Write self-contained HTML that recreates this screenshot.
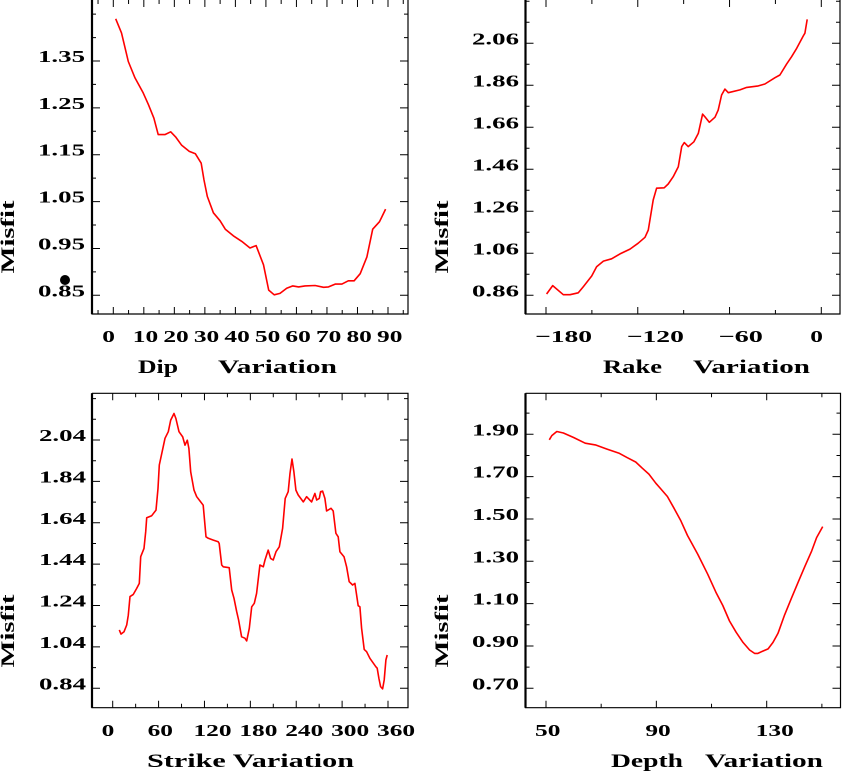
<!DOCTYPE html>
<html><head><meta charset="utf-8"><style>
html,body{margin:0;padding:0;background:#fff;}
svg{display:block;}
text{font-family:"Liberation Serif",serif;font-weight:bold;fill:#000;}
</style></head><body>
<svg id="fig" width="842" height="772" viewBox="0 0 842 772" xmlns="http://www.w3.org/2000/svg"></svg>
<script>
// ---- Dip panel data ----
const dipX = [0.8,2.7,4.9,7.1,9.8,11.5,13.3,14.7,16.9,18.8,20.4,22.4,24.9,26.9,28.8,29.7,30.8,32.8,35,36.7,39.3,42.1,44.8,46.8,49.2,50.9,52.7,54.6,56.8,58.8,60.7,62.8,66.1,68.9,70.5,72.7,74.9,77.0,78.9,80.9,83.1,85.0,87.2,89.2];
const dipY = [1.440,1.410,1.349,1.314,1.282,1.257,1.228,1.193,1.193,1.199,1.188,1.170,1.157,1.152,1.132,1.096,1.061,1.026,1.009,0.991,0.977,0.965,0.951,0.956,0.915,0.861,0.851,0.854,0.865,0.870,0.868,0.870,0.871,0.867,0.868,0.874,0.874,0.881,0.881,0.896,0.932,0.991,1.007,1.034];
const dipXTicks = [0,10,20,30,40,50,60,70,80,90];
const dipYTicks = [0.85,0.95,1.05,1.15,1.25,1.35];
// ---- Rake panel data ----
const rakeX = [-179.6,-175.6,-168.7,-164.3,-158.9,-155.6,-150.1,-146.9,-142.5,-137.1,-131.6,-125.1,-119.7,-115.3,-113.1,-109.9,-107.7,-102.7,-100.1,-96.8,-93.5,-91.3,-89.6,-87.0,-83.3,-80.4,-77.6,-76.1,-73.2,-69.5,-67.4,-65.2,-63.0,-60.8,-53.2,-48.8,-41.2,-36.9,-30.3,-27.1,-22.7,-19.4,-16.1,-11.8,-10.7,-9.2];
const rakeY = [0.866,0.906,0.863,0.863,0.872,0.901,0.952,0.996,1.023,1.034,1.057,1.080,1.108,1.136,1.171,1.314,1.370,1.372,1.390,1.425,1.472,1.568,1.587,1.568,1.591,1.631,1.723,1.710,1.684,1.708,1.742,1.814,1.842,1.825,1.838,1.850,1.857,1.866,1.896,1.909,1.961,1.996,2.036,2.095,2.108,2.174];
const rakeXTicks = [-180,-120,-60,0];
const rakeYTicks = [0.86,1.06,1.26,1.46,1.66,1.86,2.06];
// ---- Strike panel data ----
const strikeX = [8.6,10.8,14.8,18.3,20.4,22.6,26.9,31.4,34.8,36.6,40.9,43.1,44.4,51.0,56.6,59.2,60.9,66.1,68.4,72.7,75.8,80.1,82.7,86.7,91.5,94.5,97.5,99.7,102.0,106.3,109.8,114.1,118.4,122.0,125.0,131.5,138.0,139.3,142.5,144.6,152.4,155.6,158.6,162.1,164.7,168.6,172.9,175.2,178.6,181.7,185.1,188.2,192.5,196.9,199.1,201.3,203.4,206.5,209.9,213.5,217.8,222.2,225.6,229.5,231.8,234.4,237.0,239.6,242.6,249.2,253.6,260.1,264.4,266.7,270.1,271.9,274.5,277.5,279.7,285.4,288.4,291.9,294.9,297.1,302.4,305.9,309.3,313.7,316.7,321.0,323.3,325.5,328.9,332.0,336.3,344.2,345.9,348.1,350.3,352.9,355.0,357.3,359.0];
const strikeY = [1.122,1.102,1.113,1.146,1.194,1.283,1.294,1.323,1.347,1.476,1.516,1.597,1.664,1.674,1.701,1.806,1.919,2.007,2.048,2.080,2.136,2.168,2.144,2.080,2.055,2.015,2.039,1.999,1.886,1.798,1.766,1.745,1.725,1.572,1.565,1.556,1.548,1.540,1.436,1.427,1.423,1.315,1.275,1.210,1.170,1.089,1.082,1.069,1.130,1.234,1.251,1.299,1.436,1.427,1.460,1.484,1.508,1.468,1.460,1.500,1.524,1.613,1.758,1.790,1.879,1.948,1.886,1.798,1.774,1.741,1.766,1.741,1.782,1.750,1.758,1.790,1.793,1.758,1.697,1.710,1.697,1.589,1.572,1.500,1.476,1.427,1.355,1.339,1.347,1.239,1.234,1.130,1.028,1.017,0.985,0.944,0.937,0.888,0.848,0.837,0.880,0.977,1.001];
const strikeXTicks = [0,60,120,180,240,300,360];
const strikeYTicks = [0.84,1.04,1.24,1.44,1.64,1.84,2.04];
// ---- Depth panel data ----
const depthX = [51.2,52.1,53.9,56.3,60.0,64.2,67.9,72.1,76.4,79.4,82.5,84.9,87.3,89.8,91.6,94.0,96.4,98.9,101.3,105.0,108.6,111.6,114.1,116.5,118.9,121.4,123.8,125.6,126.8,128.7,130.5,132.3,134.1,136.5,139.0,141.4,143.8,146.3,148.1,150.3];
const depthY = [1.874,1.894,1.913,1.906,1.885,1.858,1.850,1.830,1.811,1.790,1.769,1.740,1.712,1.669,1.642,1.606,1.551,1.491,1.422,1.334,1.239,1.154,1.091,1.018,0.965,0.917,0.881,0.865,0.865,0.876,0.886,0.917,0.960,1.047,1.126,1.201,1.275,1.349,1.412,1.464];
const depthXTicks = [50,90,130];
const depthYTicks = [0.70,0.90,1.10,1.30,1.50,1.70,1.90];

const NS = "http://www.w3.org/2000/svg";
const svg = document.getElementById('fig');
function mk(tag, attrs, parent){const e=document.createElementNS(NS,tag);for(const k in attrs)e.setAttribute(k,attrs[k]);(parent||svg).appendChild(e);return e;}

const panels = [
 {name:'dip', xs:dipX, ys:dipY, xt:dipXTicks, yt:dipYTicks, xMinor:5, yMinor:0.05,
  L:92, R:408, T:0, B:314, x0:0, x1:90, px0:113.3, px1:388, y0:0.85, y1:1.35, py0:295.3, py1:61, ytop:-10, labR:85, labBase:342,
  xtitle:[['Dip',138,40],['Variation',218,119]], xtBase:373, ytitleX:14},
 {name:'rake', xs:rakeX, ys:rakeY, xt:rakeXTicks, yt:rakeYTicks, xMinor:30, yMinor:0.1,
  L:525.5, R:840, T:0, B:314, x0:-180, x1:0, px0:546, px1:821.3, y0:0.86, y1:2.06, py0:295.3, py1:43.3, ytop:-10, labR:519, labBase:342,
  xtitle:[['Rake',603,59],['Variation',693,117]], xtBase:373, ytitleX:448},
 {name:'strike', xs:strikeX, ys:strikeY, xt:strikeXTicks, yt:strikeYTicks, xMinor:30, yMinor:0.1,
  L:92, R:408, T:393.3, B:707.7, x0:0, x1:360, px0:112.7, px1:388, y0:0.84, y1:2.04, py0:688.3, py1:440, ytop:393.3, labR:86, labBase:736,
  xtitle:[['Strike Variation',147,207]], xtBase:767, ytitleX:14},
 {name:'depth', xs:depthX, ys:depthY, xt:depthXTicks, yt:depthYTicks, xMinor:20, yMinor:0.1,
  L:525.5, R:840.5, T:393.3, B:707.7, x0:50, x1:130, px0:546, px1:766.7, y0:0.70, y1:1.90, py0:688.3, py1:434.3, ytop:393.3, labR:519, labBase:736,
  xtitle:[['Depth',611,72],['Variation',705,118]], xtBase:767, ytitleX:448}
];

function fmt(v, ticks){const d=(String(ticks[1]).split('.')[1]||'').length;return v.toFixed(Math.max(d,2));}

panels.forEach(p=>{
  const g = mk('g',{});
  
  
  const sx = v => p.px0 + (v-p.x0)*(p.px1-p.px0)/(p.x1-p.x0);
  const sy = v => p.py0 + (v-p.y0)*(p.py1-p.py0)/(p.y1-p.y0);
  const top = Math.max(p.T,0);
  // frame
  const fr = mk('path',{d:`M${p.L},${top} V${p.B} H${p.R} V${top}`+(p.T>0?` H${p.L}`:''),fill:'none',stroke:'#000','stroke-width':1.2},g);
  
  
  mk('line',{x1:p.L,y1:top,x2:p.L,y2:p.B,stroke:'#000','stroke-width':2.2},g);
  // x ticks (major+minor)
  const xstep = p.xMinor;
  let d='';
  for(let v=p.x0 - Math.floor((p.x0-(-400))/xstep)*xstep; v<=p.x1+1e-6+200; v+=xstep){
    const x=sx(v); if(x<p.L+1||x>p.R-1) continue;
    const major = p.xt.some(t=>Math.abs(t-v)<1e-6);
    const len = major?7:4;
    d+=`M${x},${p.B}v${-len}M${x},${top}v${len}`;
  }
  // y ticks
  for(let k=-40;k<=60;k++){
    const v=p.y0+k*p.yMinor; const y=sy(v);
    if(y<top+1||y>p.B-1) continue;
    const major = p.yt.some(t=>Math.abs(t-v)<1e-6);
    const len = major?8:4;
    d+=`M${p.L},${y}h${len}M${p.R},${y}h${-len}`;
  }
  const tk = mk('path',{d:d,stroke:'#000','stroke-width':1,fill:'none'},g);
  
  
  // x tick labels
  p.xt.forEach(v=>{
    const s = v<0 ? '\u2212'+Math.abs(v) : String(v);
    const w = (v<0?19:0) + String(Math.abs(v)).length*12.7;
    const t = mk('text',{x:sx(v)-11,y:p.labBase,'font-size':17,textLength:w,lengthAdjust:'spacingAndGlyphs'},g);
    t.textContent = s;
    
    
  });
  // y tick labels
  p.yt.forEach(v=>{
    const t = mk('text',{x:p.labR,y:sy(v)+1,'font-size':17,'text-anchor':'end',textLength:47,lengthAdjust:'spacingAndGlyphs'},g);
    t.textContent = fmt(v,p.yt);
    
    
  });
  // x title
  p.xtitle.forEach(a=>{
    const t = mk('text',{x:a[1],y:p.xtBase,'font-size':19,textLength:a[2],lengthAdjust:'spacingAndGlyphs'},g);
    t.textContent = a[0];
    
    
  });
  // y title
  const cy = p.T>0 ? 631 : 237;
  const yt = mk('text',{x:0,y:0,'font-size':19,'text-anchor':'middle',textLength:73,lengthAdjust:'spacingAndGlyphs',transform:`translate(${p.ytitleX},${cy}) rotate(-90)`},g);
  yt.textContent='Misfit';
  
  
  // series
  const pts = p.xs.map((x,i)=>sx(x).toFixed(1)+','+sy(p.ys[i]).toFixed(1)).join(' ');
  const ln = mk('polyline',{points:pts,fill:'none',stroke:'#ff0000','stroke-width':1.6,'stroke-linejoin':'round'},g);
  
  
});
const dot = mk('circle',{cx:65,cy:280,r:5,fill:'#000'});


</script>
</body></html>
